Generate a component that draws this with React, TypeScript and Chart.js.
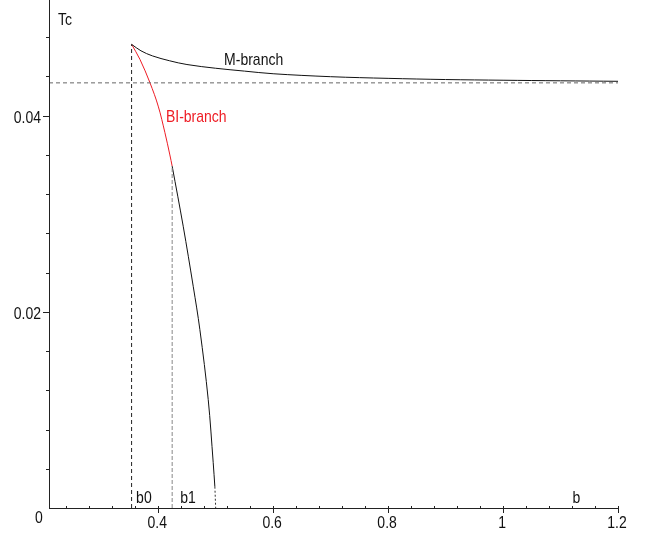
import { useEffect, useRef } from 'react';
import { Chart, registerables } from 'chart.js';

Chart.register(...registerables);

// ---- data ----
const X_MIN = 0.21;
const X_MAX = 1.2;
const Y_MIN = 0;
const Y_MAX = 0.0518;

// M-branch (upper, black)
const mBranchB = [0.3537, 0.37, 0.39, 0.42, 0.45, 0.5, 0.55, 0.6, 0.7, 0.8, 0.9, 1.0, 1.1, 1.2];
const mBranchT = [0.04728, 0.04662, 0.04610, 0.04560, 0.04522, 0.04484, 0.04455, 0.04428, 0.04398, 0.04381, 0.04369, 0.04362, 0.04356, 0.04351];

// BI-branch (red part)
const biBranchB = [0.3537, 0.3682, 0.3856, 0.4000, 0.4117, 0.4203, 0.4243];
const biBranchT = [0.04728, 0.04575, 0.04337, 0.04098, 0.03827, 0.03600, 0.03486];

// lower branch continuation (black)
const lowBranchB = [0.4243, 0.4435, 0.4609, 0.4725, 0.4870, 0.4957, 0.4986];
const lowBranchT = [0.03486, 0.02873, 0.02261, 0.01819, 0.01107, 0.00462, 0.00217];

// dashed tail to zero
const tailB = [0.4986, 0.5];
const tailT = [0.00217, 0];

// markers
const b0 = 0.3537;
const b1 = 0.4243;
const tPeak = 0.04728;
const tAtB1 = 0.03486;
const tInf = 0.04335;

// ticks
const xMajorTicks = [0.4, 0.6, 0.8, 1.0, 1.2];
const xMajorLabels = ['0.4', '0.6', '0.8', '1', '1.2'];
const xMinorTicks = [0.24, 0.28, 0.32, 0.36, 0.44, 0.48, 0.52, 0.56, 0.64, 0.68, 0.72, 0.76, 0.84, 0.88, 0.92, 0.96, 1.04, 1.08, 1.12, 1.16];
const yMajorTicks = [0.02, 0.04];
const yMajorLabels = ['0.02', '0.04'];
const yMinorTicks = [0.004, 0.008, 0.012, 0.016, 0.024, 0.028, 0.032, 0.036, 0.044, 0.048];

// annotation texts (data coordinates)
const annotations = [
  { text: 'M-branch', x: 0.5146, y: 0.04513, color: '#111' },
  { text: 'BI-branch', x: 0.4134, y: 0.03932, color: '#ee1c24' },
];

const zip = (xs: number[], ys: number[]) => xs.map((x, i) => ({ x, y: ys[i] }));

const FONT = '14px "Liberation Sans", Arial, sans-serif';
const STRETCH = 1.15;

function drawText(ctx: CanvasRenderingContext2D, text: string, x: number, y: number, align: CanvasTextAlign, color: string) {
  ctx.save();
  ctx.translate(x, y);
  ctx.scale(1, STRETCH);
  ctx.font = FONT;
  ctx.fillStyle = color;
  ctx.textAlign = align;
  ctx.textBaseline = 'alphabetic';
  ctx.fillText(text, 0, 0);
  ctx.restore();
}

const axesPlugin = {
  id: 'mapleAxes',
  afterDatasetsDraw(chart: any) {
    const { ctx, chartArea, scales } = chart;
    const xs = scales.x;
    const ys = scales.y;
    const left = chartArea.left;
    const y0 = Math.round(ys.getPixelForValue(0));
    ctx.save();
    ctx.strokeStyle = '#222';
    ctx.lineWidth = 1;
    ctx.setLineDash([]);
    ctx.beginPath();
    ctx.moveTo(left + 0.5, chartArea.top);
    ctx.lineTo(left + 0.5, y0 + 0.5);
    ctx.moveTo(left, y0 + 0.5);
    ctx.lineTo(chartArea.right + 1, y0 + 0.5);
    // x ticks
    xMinorTicks.forEach((v) => {
      const px = Math.round(xs.getPixelForValue(v)) + 0.5;
      ctx.moveTo(px, y0 - 2);
      ctx.lineTo(px, y0 + 1);
    });
    xMajorTicks.forEach((v) => {
      const px = Math.round(xs.getPixelForValue(v)) + 0.5;
      ctx.moveTo(px, y0 - 2);
      ctx.lineTo(px, y0 + 5);
    });
    // y ticks
    yMinorTicks.forEach((v) => {
      const py = Math.round(ys.getPixelForValue(v)) + 0.5;
      ctx.moveTo(left - 3, py);
      ctx.lineTo(left + 1, py);
    });
    yMajorTicks.forEach((v) => {
      const py = Math.round(ys.getPixelForValue(v)) + 0.5;
      ctx.moveTo(left - 6, py);
      ctx.lineTo(left + 1, py);
    });
    ctx.stroke();

    // tick labels
    xMajorTicks.forEach((v, i) => {
      const px = xs.getPixelForValue(v);
      drawText(ctx, xMajorLabels[i], px - 1, y0 + 20, 'center', '#111');
    });
    yMajorTicks.forEach((v, i) => {
      const py = ys.getPixelForValue(v);
      drawText(ctx, yMajorLabels[i], left - 8, py + 7, 'right', '#111');
    });
    drawText(ctx, '0', left - 10, y0 + 15, 'center', '#111');

    // axis titles
    drawText(ctx, 'Tc', left + 9, chartArea.top + 25, 'left', '#111');
    drawText(ctx, 'b', xs.getPixelForValue(1.121), y0 - 5, 'left', '#111');
    drawText(ctx, 'b0', xs.getPixelForValue(b0) + 4.5, y0 - 5, 'left', '#111');
    drawText(ctx, 'b1', xs.getPixelForValue(b1) + 8, y0 - 5, 'left', '#111');

    annotations.forEach((a) => {
      drawText(ctx, a.text, xs.getPixelForValue(a.x), ys.getPixelForValue(a.y), 'left', a.color);
    });
    ctx.restore();
  },
};

export default function App() {
  const canvasRef = useRef<HTMLCanvasElement | null>(null);

  useEffect(() => {
    const canvas = canvasRef.current;
    if (!canvas) return;
    const line = (data: { x: number; y: number }[], color: string, dash: number[] = [], tension = 0.35) => ({
      type: 'line' as const,
      data,
      borderColor: color,
      borderWidth: 1,
      borderDash: dash,
      pointRadius: 0,
      fill: false,
      tension,
    });
    const chart = new Chart(canvas, {
      type: 'line',
      data: {
        datasets: [
          line([{ x: X_MIN, y: tInf }, { x: X_MAX, y: tInf }], '#666', [4, 3], 0),
          line([{ x: b0, y: 0 }, { x: b0, y: tPeak }], '#222', [4, 3], 0),
          line([{ x: b1, y: 0 }, { x: b1, y: tAtB1 }], '#888', [4, 2], 0),
          line(zip(mBranchB, mBranchT), '#111'),
          line(zip(lowBranchB, lowBranchT), '#111'),
          line(zip(tailB, tailT), '#333', [2, 2], 0),
          line(zip(biBranchB, biBranchT), '#ee1c24'),
        ],
      },
      options: {
        animation: false,
        responsive: false,
        maintainAspectRatio: false,
        layout: { padding: { left: 49, right: 37, top: 0, bottom: 29 } },
        scales: {
          x: { type: 'linear', min: X_MIN, max: X_MAX, display: false },
          y: { type: 'linear', min: Y_MIN, max: Y_MAX, display: false },
        },
        plugins: {
          legend: { display: false },
          tooltip: { enabled: false },
        },
      },
      plugins: [axesPlugin],
    } as any);
    return () => chart.destroy();
  }, []);

  return (
    <div style={{ position: 'absolute', left: 0, top: 0, width: 655, height: 537, background: '#fff' }}>
      <canvas ref={canvasRef} width={655} height={537} style={{ display: 'block', width: 655, height: 537 }} />
    </div>
  );
}
